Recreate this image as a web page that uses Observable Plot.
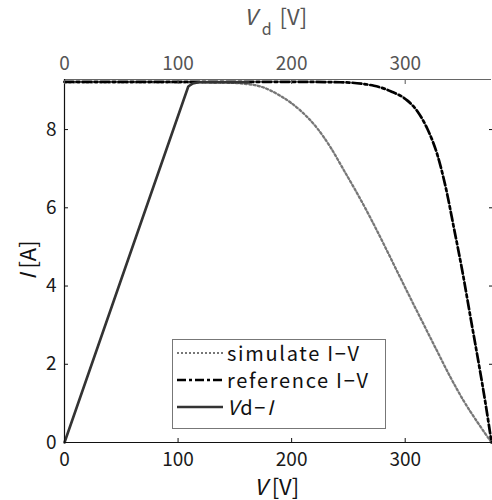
<!DOCTYPE html>
<html>
<head>
<meta charset="utf-8">
<script src="https://cdn.jsdelivr.net/npm/d3@7"></script>
<script src="https://cdn.jsdelivr.net/npm/@observablehq/plot@0.6"></script>
<style>
  body { margin: 0; background: #fff; }
  #wrap { position: relative; width: 492px; height: 500px; font-family: "Noto Sans CJK JP", "Noto Sans", sans-serif; }
  .lab { position: absolute; white-space: nowrap; line-height: 1.2; }
  #legend { position: absolute; left: 172px; top: 339px; width: 212px; height: 88px; border: 1px solid #777; background: #fff; }
  .row { position: absolute; left: 0; height: 26px; line-height: 26px; display: flex; align-items: center; font-size: 20px; letter-spacing: 1.7px; color: #111; white-space: nowrap; }
  .row svg { margin-left: 4px; margin-right: 4px; }
</style>
</head>
<body>
<div id="wrap"></div>
<script>
// ---- data ----
const simV = [0, 100, 140, 155, 172.7, 190.3, 208, 222.6, 234.4, 246, 257.9, 269.6, 281.3, 293, 304.8, 316.6, 328.4, 340, 351.8, 363.6, 376];
const simI = [9.21, 9.21, 9.2, 9.18, 9.10, 8.86, 8.48, 8.03, 7.54, 6.96, 6.36, 5.73, 5.06, 4.37, 3.68, 3.0, 2.32, 1.66, 1.05, 0.52, 0];

const refV = [0, 100, 200, 243, 272.5, 287.2, 302, 310.7, 319.5, 328.4, 335.7, 343, 350.4, 357.7, 365, 371, 376];
const refI = [9.22, 9.22, 9.22, 9.21, 9.12, 8.98, 8.74, 8.47, 8.02, 7.35, 6.52, 5.47, 4.37, 3.17, 1.98, 0.95, 0];

const vdV = [0, 109, 113, 118, 162];
const vdI = [0, 9.1, 9.18, 9.21, 9.21];

const xTicks = [0, 100, 200, 300];
const yTicks = [0, 2, 4, 6, 8];
const xDomain = [0, 376];
const yDomain = [0, 9.28];

const sim = simV.map((v, i) => ({V: v, I: simI[i]}));
const ref = refV.map((v, i) => ({V: v, I: refI[i]}));
const vd = vdV.map((v, i) => ({V: v, I: vdI[i]}));

const chart = Plot.plot({
  width: 492,
  height: 500,
  marginLeft: 64,
  marginRight: 1,
  marginTop: 79,
  marginBottom: 58,
  style: {fontFamily: "'Noto Sans CJK JP', 'Noto Sans', sans-serif", fontSize: "19px", background: "transparent"},
  x: {domain: xDomain},
  y: {domain: yDomain},
  marks: [
    Plot.line(sim, {x: "V", y: "I", stroke: "#777", strokeWidth: 2.3, strokeDasharray: "2,2.4", curve: "monotone-x"}),
    Plot.line(ref, {x: "V", y: "I", stroke: "#000", strokeWidth: 2.7, strokeDasharray: "9,3,3,3", curve: "monotone-x"}),
    Plot.line(vd, {x: "V", y: "I", stroke: "#333", strokeWidth: 2.6, curve: "linear"}),
    Plot.ruleY([yDomain[1]], {stroke: "#666", strokeWidth: 1}),
    Plot.ruleX([0], {stroke: "#111", strokeWidth: 1.2}),
    Plot.ruleY([0], {stroke: "#111", strokeWidth: 1.2}),
    Plot.axisX(xTicks, {anchor: "bottom", tickSize: -4, tickPadding: 14, label: null, color: "#1a1a1a", stroke: "#111"}),
    Plot.axisX(xTicks, {anchor: "top", tickSize: -4, tickPadding: 14, label: null, color: "#555", stroke: "#555"}),
    Plot.axisY(yTicks, {anchor: "left", tickSize: -4, tickPadding: 12, label: null, color: "#1a1a1a", stroke: "#111"}),
    Plot.axisY(yTicks, {anchor: "right", tickSize: -3, tickFormat: () => "", label: null, stroke: "#111"})
  ]
});

const wrap = document.getElementById("wrap");
chart.style.position = "absolute";
chart.style.left = "0";
chart.style.top = "0";
wrap.appendChild(chart);

function addLabel(html, styles) {
  const d = document.createElement("div");
  d.className = "lab";
  d.innerHTML = html;
  Object.assign(d.style, styles);
  wrap.appendChild(d);
  return d;
}
addLabel('<i>V</i><span style="margin-left:5px">[V]</span>', {left: "254px", top: "472px", fontSize: "22px", color: "#111"});
addLabel('<i>V</i><sub style="font-size:16px;vertical-align:-10px;margin-left:5px">d</sub><span style="margin-left:8px">[V]</span>', {left: "244px", top: "2px", fontSize: "22px", color: "#555"});
addLabel('<i>I</i><span style="margin-left:5px">[A]</span>', {left: "6px", top: "247px", fontSize: "22px", color: "#111", transform: "rotate(-90deg)", transformOrigin: "center"});

// legend
const legendItems = [
  {label: 'simulate I−V', stroke: "#777", width: 2, dash: "2,2"},
  {label: 'reference I−V', stroke: "#000", width: 2.6, dash: "9,3,3,3"},
  {label: '<i>V</i>d−<i>I</i>', stroke: "#333", width: 2.6, dash: null}
];
const lg = document.createElement("div");
lg.id = "legend";
legendItems.forEach((it, k) => {
  const r = document.createElement("div");
  r.className = "row";
  r.style.top = (0 + k * 27) + "px";
  r.innerHTML = `<svg width="46" height="10"><line x1="0" x2="46" y1="5" y2="5" stroke="${it.stroke}" stroke-width="${it.width}" ${it.dash ? `stroke-dasharray="${it.dash}"` : ""}/></svg><span>${it.label}</span>`;
  lg.appendChild(r);
});
wrap.appendChild(lg);
</script>
</body>
</html>
